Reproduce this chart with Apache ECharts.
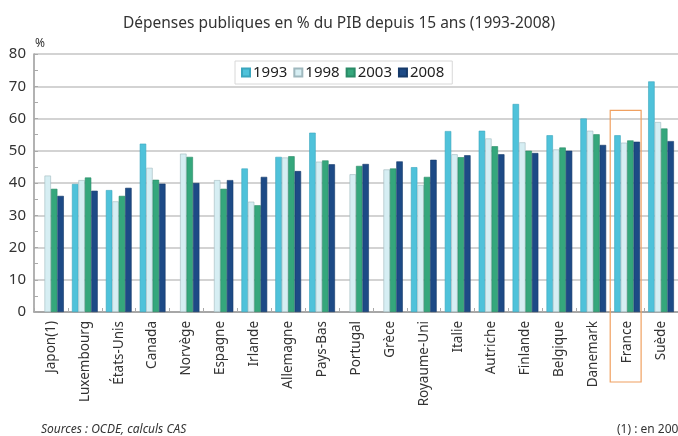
<!DOCTYPE html>
<html>
<head>
<meta charset="utf-8">
<script src="https://cdn.jsdelivr.net/npm/echarts@6/dist/echarts.min.js"></script>
<style>
html, body { margin: 0; padding: 0; background: #fff; }
#echart { width: 678px; height: 436px; }
</style>
</head>
<body>
<div id="echart"></div>
<script>
var pays = ['Japon(1)', 'Luxembourg', 'États-Unis', 'Canada', 'Norvège', 'Espagne', 'Irlande', 'Allemagne', 'Pays-Bas', 'Portugal', 'Grèce', 'Royaume-Uni', 'Italie', 'Autriche', 'Finlande', 'Belgique', 'Danemark', 'France', 'Suède'];
var annees = ['1993', '1998', '2003', '2008'];
var v1993 = [null, 39.7, 37.8, 52.2, null, null, 44.5, 48.1, 55.6, null, null, 44.9, 56.1, 56.2, 64.5, 54.8, 60.0, 54.8, 71.5];
var v1998 = [42.3, 40.9, 34.3, 44.7, 49.1, 40.9, 34.2, 47.9, 46.6, 42.7, 44.2, 39.4, 48.9, 53.8, 52.6, 50.4, 56.2, 52.5, 58.9];
var v2003 = [38.2, 41.7, 36.0, 41.0, 48.1, 38.2, 33.1, 48.3, 47.0, 45.3, 44.5, 41.9, 48.0, 51.4, 50.0, 51.0, 55.1, 53.2, 56.9];
var v2008 = [36.0, 37.6, 38.5, 39.8, 40.0, 40.9, 41.9, 43.7, 45.8, 45.9, 46.7, 47.2, 48.6, 48.9, 49.3, 50.0, 51.8, 52.8, 53.0];
var paysEncadre = 'France';
var hautCadre = 62.5;

var couleurs = ['#4fc2da', '#d6eef3', '#35a77c', '#1d4a86'];
var bordures = ['#3aa6be', '#9fb8be', '#2a8a66', '#163a6a'];
var valeurs = [v1993, v1998, v2003, v2008];

var police = '"Noto Sans", "Open Sans", sans-serif';

var myChart = echarts.init(document.getElementById('echart'));

var series = annees.map(function (a, i) {
    return {
        name: a,
        type: 'bar',
        data: valeurs[i],
        barGap: '0%',
        barCategoryGap: '24%',
        itemStyle: { color: couleurs[i], borderColor: bordures[i], borderWidth: 0.6 }
    };
});

option = {
    animation: false,
    textStyle: { fontFamily: police },
    title: [
        {
            text: 'Dépenses publiques en % du PIB depuis 15 ans (1993-2008)',
            left: 'center', top: 11,
            textStyle: { fontFamily: police, fontSize: 15.5, fontWeight: 'normal', color: '#333' }
        },
        {
            text: '%', left: 30, top: 33,
            textStyle: { fontFamily: police, fontSize: 12, fontWeight: 'normal', color: '#333' }
        },
        {
            text: 'Sources : OCDE, calculs CAS', left: 36, top: 419,
            textStyle: { fontFamily: police, fontSize: 12, fontStyle: 'italic', fontWeight: 'normal', color: '#333' }
        },
        {
            text: '(1) : en 2007', left: 612, top: 419,
            textStyle: { fontFamily: police, fontSize: 12, fontWeight: 'normal', color: '#333' }
        }
    ],
    legend: {
        data: annees,
        left: 235, top: 61,
        itemWidth: 8, itemHeight: 8, itemGap: 6,
        padding: [4, 8, 4, 6],
        backgroundColor: '#fff',
        borderColor: '#d8d8d8', borderWidth: 1, borderRadius: 0,
        icon: 'rect',
        textStyle: { fontFamily: police, fontSize: 15, color: '#222', padding: [0, 0, 0, -2] }
    },
    grid: { left: 34, top: 54, right: -8, bottom: 124 },
    xAxis: {
        type: 'category',
        data: pays,
        axisLine: { lineStyle: { color: '#999', width: 1.5 } },
        axisTick: { show: true, inside: true, length: 4, lineStyle: { color: '#aaa' } },
        axisLabel: { rotate: 90, fontSize: 13.5, color: '#333', margin: 9, interval: 0 }
    },
    yAxis: {
        type: 'value',
        min: 0, max: 80, interval: 10,
        axisLine: { show: true, lineStyle: { color: '#999', width: 1.5 } },
        axisTick: { show: true, inside: true, length: 4, lineStyle: { color: '#aaa' } },
        minorTick: { show: true, splitNumber: 2, length: 4, lineStyle: { color: '#aaa' } },
        splitLine: { lineStyle: { color: '#c4c4c4', width: 1.5 } },
        axisLabel: { fontSize: 15, color: '#333', margin: 8 }
    },
    series: series
};
myChart.setOption(option);

// cadre orange autour de la France
var idx = pays.indexOf(paysEncadre);
var xc = myChart.convertToPixel({ xAxisIndex: 0 }, idx);
var pas = myChart.convertToPixel({ xAxisIndex: 0 }, idx + 1) - xc;
var yHaut = myChart.convertToPixel({ yAxisIndex: 0 }, hautCadre);
var yZero = myChart.convertToPixel({ yAxisIndex: 0 }, 0);
myChart.setOption({
    graphic: [{
        type: 'rect',
        shape: { x: xc - pas / 2, y: yHaut, width: pas - 3, height: yZero - yHaut + 70 },
        style: { fill: 'none', stroke: '#f0a060', lineWidth: 1.2 },
        z: 10
    }]
});
</script>
</body>
</html>
